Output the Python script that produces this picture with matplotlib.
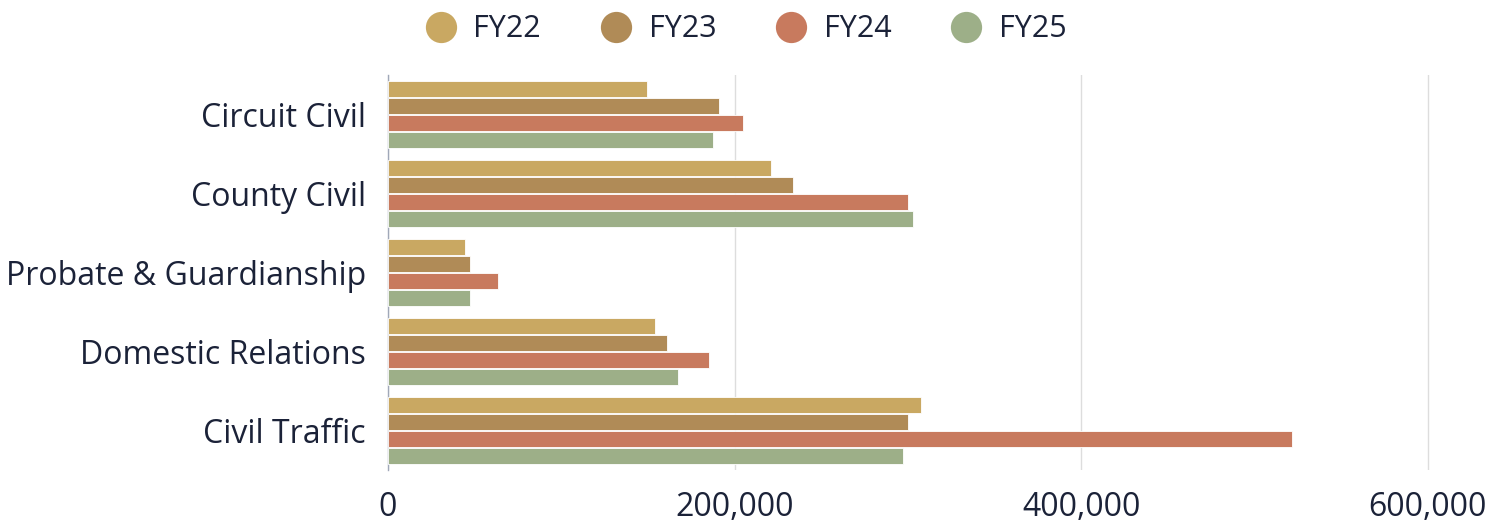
import matplotlib.pyplot as plt
import numpy as np
from matplotlib.ticker import FuncFormatter

plt.rcParams['font.family'] = ['Open Sans', 'DejaVu Sans']

categories = ["Circuit Civil", "County Civil", "Probate & Guardianship",
              "Domestic Relations", "Civil Traffic"]
series_names = ["FY22", "FY23", "FY24", "FY25"]
fy22 = [149700, 221000, 44300, 154000, 307700]
fy23 = [191000, 234000, 47200, 161100, 300300]
fy24 = [205000, 300300, 63500, 185200, 521800]
fy25 = [187500, 303200, 47100, 167400, 297000]
xticks = [0, 200000, 400000, 600000]

colors = ['#c9a862', '#b08b57', '#c87a5e', '#9daf88']
text_color = '#1b2238'

fig = plt.figure(figsize=(15.04, 5.23), dpi=100)
ax = fig.add_axes([388 / 1504, 1 - 470 / 523, (1490 - 388) / 1504, (470 - 75) / 523])

y = np.arange(len(categories))
pitch = 0.213
height = 0.198
for k, (name, vals) in enumerate(zip(series_names, [fy22, fy23, fy24, fy25])):
    offset = (k - 1.5) * pitch
    ax.barh(y + offset, vals, height, color=colors[k], edgecolor='white',
            linewidth=0.6, label=name, zorder=3)

ax.set_yticks(y)
ax.set_yticklabels(categories, fontsize=23, color=text_color)
ax.set_ylim(len(categories) - 0.5, -0.5)
ax.set_xlim(0, 636000)
ax.set_xticks(xticks)
ax.xaxis.set_major_formatter(FuncFormatter(lambda v, p: f"{int(v):,}"))
ax.tick_params(axis='x', labelsize=23, colors=text_color, length=0, pad=15)
ax.tick_params(axis='y', length=0, pad=16)
ax.grid(True, axis='x', color='#dddddd', linewidth=1, zorder=0)
for s in ['top', 'right', 'bottom']:
    ax.spines[s].set_visible(False)
ax.spines['left'].set_color('#a0a8b8')
ax.spines['left'].set_linewidth(1)

handles = [plt.Line2D([], [], marker='o', linestyle='', markersize=22.5,
                      markerfacecolor=c, markeredgecolor='none') for c in colors]
fig.legend(handles, series_names, loc='upper center', bbox_to_anchor=(0.491, 1.025),
           ncol=4, frameon=False, fontsize=22, labelcolor=text_color,
           handletextpad=0.07, columnspacing=1.45)

plt.savefig('out.png', dpi=100)
